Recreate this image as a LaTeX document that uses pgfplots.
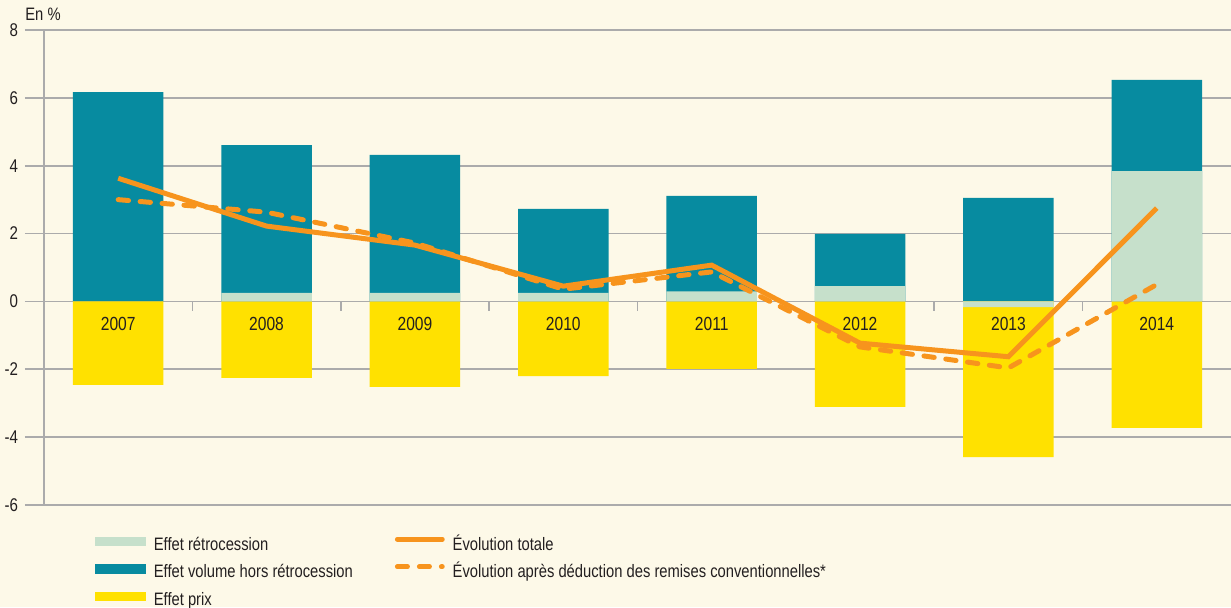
\documentclass[border=0pt]{standalone}
\usepackage{pgfplots}
\pgfplotsset{compat=1.18}
\usepackage{fontspec}
\setmainfont{Liberation Sans}[FakeStretch=0.82]
\definecolor{bg}{HTML}{FDF9E8}
\definecolor{cteal}{HTML}{078BA0}
\definecolor{clight}{HTML}{C6E0CB}
\definecolor{cyellow}{HTML}{FFE100}
\definecolor{corange}{HTML}{F7941D}
\definecolor{cgrid}{HTML}{ABABAB}
\definecolor{ctext}{HTML}{231F20}
\begin{document}
\begin{tikzpicture}
\path[use as bounding box, fill=bg] (0,0) rectangle (615.5pt,303.5pt);
\node[anchor=base west, inner sep=0pt, font=\fontsize{9}{10}\selectfont, text=ctext] at (12.5pt,293.5pt) {En \%};
\begin{axis}[
  at={(22pt,51pt)}, anchor=south west,
  scale only axis, width=593.5pt, height=237.5pt,
  xmin=-0.5, xmax=7.5, ymin=-6, ymax=8,
  axis x line=none, axis y line=left,
  y axis line style={-, draw=cgrid, line width=1pt},
  ytick={-6,-4,...,8},
  ymajorgrids, grid style={cgrid, line width=0.8pt},
  ytick style={cgrid, line width=0.8pt},
  tick align=outside, major tick length=9.5pt,
  /pgf/number format/assume math mode=true,
  yticklabel style={font=\fontsize{9.2}{10}\selectfont, text=ctext},
  clip=false,
  legend columns=2,
  legend style={at={(axis description cs:0.043,-0.067)}, anchor=north west,
    draw=none, fill=none, inner sep=0pt, outer sep=0pt,
    font=\fontsize{9}{10}\selectfont, text=ctext,
    nodes={inner sep=0pt, text height=6.5pt, text depth=2pt},
    row sep=5pt,
    /tikz/every odd column/.append style={column sep=4pt},
    /tikz/every even column/.append style={column sep=21pt}},
  legend cell align=left,
]
\addlegendimage{legend image code/.code={\fill[clight] (0pt,0pt) rectangle (25pt,4.3pt);}}
\addlegendentry{Effet rétrocession}
\addlegendimage{legend image code/.code={\draw[corange, line width=2.3pt, line cap=round] (1.2pt,3.3pt) -- (23.8pt,3.3pt);}}
\addlegendentry{Évolution totale}
\addlegendimage{legend image code/.code={\fill[cteal] (0pt,0pt) rectangle (25pt,4.3pt);}}
\addlegendentry{Effet volume hors rétrocession}
\addlegendimage{legend image code/.code={\draw[corange, line width=2.3pt, line cap=round, dash pattern=on 5.2pt off 5.8pt] (1.2pt,3.3pt) -- (23.8pt,3.3pt);}}
\addlegendentry{Évolution après déduction des remises conventionnelles*}
\addlegendimage{legend image code/.code={\fill[cyellow] (0pt,0pt) rectangle (25pt,4.3pt);}}
\addlegendentry{Effet prix}

% boundary ticks on the zero line
\addplot[forget plot, ycomb, draw=cgrid, line width=0.8pt, mark=none]
  coordinates {(0.5,-0.27) (1.5,-0.27) (2.5,-0.27) (3.5,-0.27) (4.5,-0.27) (5.5,-0.27) (6.5,-0.27)};
% Effet volume (top of positive part)
\addplot[forget plot, ybar, bar width=0.61, bar shift=0pt, fill=cteal, draw=none]
  coordinates {(0,6.17) (1,4.61) (2,4.32) (3,2.73) (4,3.11) (5,1.99) (6,3.05) (7,6.53)};
% Effet prix
\addplot[forget plot, ybar, bar width=0.61, bar shift=0pt, fill=cyellow, draw=none]
  coordinates {(0,-2.46) (1,-2.25) (2,-2.52) (3,-2.20) (4,-1.99) (5,-3.11) (6,-4.59) (7,-3.73)};
% Effet retrocession
\addplot[forget plot, ybar, bar width=0.61, bar shift=0pt, fill=clight, draw=none]
  coordinates {(1,0.25) (2,0.25) (3,0.25) (4,0.30) (5,0.45) (6,-0.17) (7,3.84)};
% year labels
\addplot[forget plot, draw=none, mark=none, nodes near coords, point meta=explicit symbolic,
  every node near coord/.append style={anchor=center, font=\fontsize{9.5}{10}\selectfont, text=ctext}]
  coordinates {(0,-0.65) [2007] (1,-0.65) [2008] (2,-0.65) [2009] (3,-0.65) [2010]
               (4,-0.65) [2011] (5,-0.65) [2012] (6,-0.65) [2013] (7,-0.65) [2014]};
% Evolution totale
\addplot[forget plot, corange, line width=2.5pt, mark=none]
  coordinates {(0,3.63) (1,2.22) (2,1.66) (3,0.45) (4,1.07) (5,-1.23) (6,-1.63) (7,2.75)};
% Evolution apres deduction
\addplot[forget plot, corange, line width=2.5pt, mark=none, line cap=round, dash pattern=on 5.2pt off 5.8pt]
  coordinates {(0,3.00) (1,2.63) (2,1.72) (3,0.36) (4,0.87) (5,-1.34) (6,-1.96) (7,0.50)};
\end{axis}
\end{tikzpicture}
\end{document}
